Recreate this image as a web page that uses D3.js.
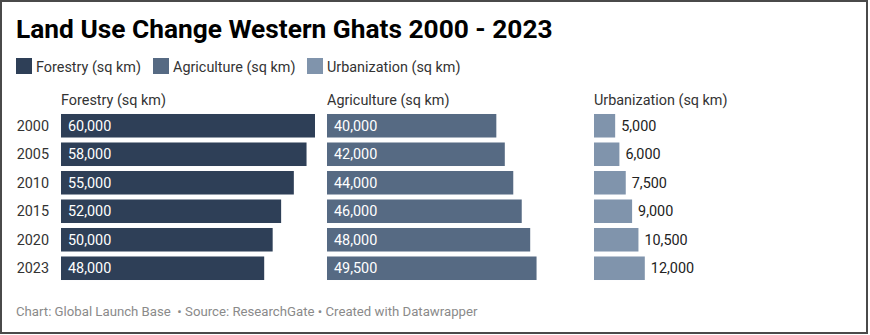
<!DOCTYPE html>
<html>
<head>
<meta charset="utf-8">
<script src="https://cdn.jsdelivr.net/npm/d3@7"></script>
<style>
  html, body { margin: 0; padding: 0; background: #fff; }
  svg { display: block; font-family: Roboto, "Noto Sans", sans-serif; }
</style>
</head>
<body>
<svg id="chart" width="870" height="335"></svg>
<script>
const title = "Land Use Change Western Ghats 2000 - 2023";
const years = ["2000", "2005", "2010", "2015", "2020", "2023"];
const seriesNames = ["Forestry (sq km)", "Agriculture (sq km)", "Urbanization (sq km)"];
const forestry = [60000, 58000, 55000, 52000, 50000, 48000];
const agriculture = [40000, 42000, 44000, 46000, 48000, 49500];
const urbanization = [5000, 6000, 7500, 9000, 10500, 12000];
const colors = ["#2e3f57", "#566a83", "#8094ac"];
const footer = "Chart: Global Launch Base  \u2022 Source: ResearchGate \u2022 Created with Datawrapper";

const svg = d3.select("#chart");
const fs = 14.4;

// border
svg.append("rect").attr("x", 1).attr("y", 1).attr("width", 866).attr("height", 332)
  .attr("fill", "#fff").attr("stroke", "#4a4a4a").attr("stroke-width", 2);

// title
svg.append("text").attr("x", 16).attr("y", 38)
  .attr("font-size", 26.3).attr("font-weight", 700).attr("fill", "#000")
  .text(title);

// legend
const legendX = [16, 153, 307];
seriesNames.forEach((name, i) => {
  const g = svg.append("g").attr("transform", `translate(${legendX[i]},58)`);
  g.append("rect").attr("width", 16).attr("height", 16).attr("fill", colors[i]);
  g.append("text").attr("x", 20).attr("y", 13.5).attr("font-size", fs).attr("fill", "#333").text(name);
});

// scales
const y = d3.scaleBand().domain(years).range([111.5, 282.5]).paddingInner(0.175).paddingOuter(0.0875);
const colX = [61, 327, 594];
const x = d3.scaleLinear().domain([0, 60000]).range([0, 254]);
const data = [forestry, agriculture, urbanization];

// year labels
svg.append("g").selectAll("text").data(years).join("text")
  .attr("x", 49).attr("y", d => y(d) + y.bandwidth() / 2)
  .attr("dy", "0.35em").attr("text-anchor", "end")
  .attr("font-size", fs).attr("fill", "#333").text(d => d);

const fmt = d3.format(",");
data.forEach((vals, i) => {
  const g = svg.append("g").attr("transform", `translate(${colX[i]},0)`);
  g.append("text").attr("x", 0).attr("y", 105).attr("font-size", fs).attr("fill", "#333").text(seriesNames[i]);
  g.selectAll("rect").data(vals).join("rect")
    .attr("x", 0).attr("y", (d, j) => y(years[j]))
    .attr("width", d => x(d)).attr("height", y.bandwidth())
    .attr("fill", colors[i]);
  const inside = i < 2;
  g.selectAll("text.val").data(vals).join("text").attr("class", "val")
    .attr("x", d => inside ? 7 : x(d) + 6)
    .attr("y", (d, j) => y(years[j]) + y.bandwidth() / 2)
    .attr("dy", "0.35em").attr("font-size", fs)
    .attr("fill", inside ? "#fff" : "#222")
    .text(d => fmt(d));
});

// footer
svg.append("text").attr("x", 16).attr("y", 316).attr("font-size", 13.2)
  .attr("fill", "#8a8a8a").style("white-space", "pre").text(footer);
</script>
</body>
</html>
